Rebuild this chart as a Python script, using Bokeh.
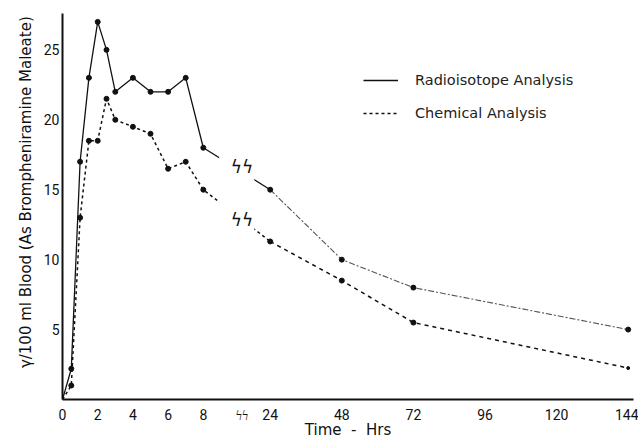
import math
from bokeh.plotting import figure
from bokeh.models import Range1d, FixedTicker, Legend, LegendItem
from bokeh.core.properties import value
from bokeh.embed import file_html
from bokeh.resources import INLINE

# ---- data (hours, gamma / 100 ml blood) ----
hours_early = [0, 0.5, 1, 1.5, 2, 2.5, 3, 4, 5, 6, 7, 8]
radio_early = [0, 2.2, 17, 23, 27, 25, 22, 23, 22, 22, 23, 18]
chem_early = [0, 1.0, 13, 18.5, 18.5, 21.5, 20, 19.5, 19, 16.5, 17, 15]

hours_late = [24, 48, 72, 144]
radio_late = [15, 10, 8, 5]
chem_late = [11.3, 8.5, 5.5, 2.25]

tick_hours = [0, 2, 4, 6, 8, 24, 48, 72, 96, 120, 144]
tick_labels = ["0", "2", "4", "6", "8", "24", "48", "72", "96", "120", "144"]
y_ticks = [5, 10, 15, 20, 25]

series_names = ["Radioisotope Analysis", "Chemical Analysis"]

# broken time axis: 0-8 h linear, then 24-144 h compressed
def pos_of(t):
    return t if t <= 8 else 11.8 + (t - 24) / 5.9

BREAK_POS = 10.2
xe = [pos_of(t) for t in hours_early]
xl = [pos_of(t) for t in hours_late]

INK = "#111111"
FONT = "DejaVu Sans"
NB = "\u00a0"

p = figure(width=638, height=441, x_range=Range1d(0, 32.44), y_range=Range1d(0, 27.6),
           output_backend="svg", toolbar_location=None,
           min_border_left=62, min_border_right=5, min_border_top=13, min_border_bottom=41)
p.xgrid.visible = False
p.ygrid.visible = False
p.outline_line_color = None
p.background_fill_color = "white"

for ax in (p.xaxis[0], p.yaxis[0]):
    ax.axis_line_width = 2
    ax.axis_line_color = INK
    ax.major_tick_line_color = None
    ax.minor_tick_line_color = None
    ax.major_tick_out = 0
    ax.major_tick_in = 0
    ax.major_label_text_font = "Roboto"
    ax.major_label_text_font_size = "14px"
    ax.major_label_text_color = INK
    ax.axis_label_text_font = FONT
    ax.axis_label_text_font_style = "normal"
    ax.axis_label_text_color = INK

xticks = [pos_of(t) for t in tick_hours]
overrides = {pos_of(t): lbl for t, lbl in zip(tick_hours, tick_labels)}
overrides[BREAK_POS] = "ϟϟ"
p.xaxis.ticker = FixedTicker(ticks=sorted(xticks + [BREAK_POS]))
p.xaxis.major_label_overrides = overrides
p.xaxis.major_label_standoff = 7
p.xaxis.axis_label = "Time" + NB * 2 + "-" + NB * 2 + "Hrs"
p.xaxis.axis_label_text_font_size = "15px"
p.xaxis.axis_label_standoff = -5

p.yaxis.ticker = FixedTicker(ticks=y_ticks)
p.yaxis.major_label_standoff = 3
p.yaxis.axis_label = NB * 6 + "γ/100 ml Blood (As Brompheniramine Maleate)"
p.yaxis.axis_label_text_font_size = "15px"
p.yaxis.axis_label_standoff = 6

# radioisotope: solid in early part, through the break to 24 h
r_radio = p.line(xe + [xl[0]], radio_early + [radio_late[0]], line_color=INK, line_width=1.3)
p.line(xl, radio_late, line_color="#555555", line_width=1.1, line_dash="6 2 2 2")
p.scatter(xe[1:] + xl, radio_early[1:] + radio_late, size=5, color=INK)

# chemical: dashed
r_chem = p.line(xe + [xl[0]], chem_early + [chem_late[0]], line_color=INK, line_width=1.5, line_dash="3 3")
p.line(xl, chem_late, line_color=INK, line_width=1.5, line_dash="4 4")
p.scatter(xe[1:] + xl[:-1], chem_early[1:] + chem_late[:-1], size=5, color=INK)
p.scatter(xl[-1:], chem_late[-1:], size=3, color=INK)

# gap in the curves at the time-axis break
p.quad(left=[8.9], right=[10.9], bottom=[1.0], top=[27.6], fill_color="white", line_color=None)
p.text(x=[BREAK_POS, BREAK_POS], y=[16.6, 12.8], text=["ϟϟ", "ϟϟ"], text_font=value(FONT),
       text_font_size="17px", text_color=INK, text_align="center", text_baseline="middle")

legend = Legend(items=[LegendItem(label=series_names[0], renderers=[r_radio]),
                       LegendItem(label=series_names[1], renderers=[r_chem])],
                location=(301, 276), padding=0, margin=0, glyph_width=35, glyph_height=20,
                label_height=20, spacing=13, label_standoff=17,
                label_text_font=FONT, label_text_font_size="14.5px", label_text_color="#222222",
                border_line_color=None, background_fill_alpha=0)
p.add_layout(legend)

open("out.html", "w").write(file_html(p, INLINE))
